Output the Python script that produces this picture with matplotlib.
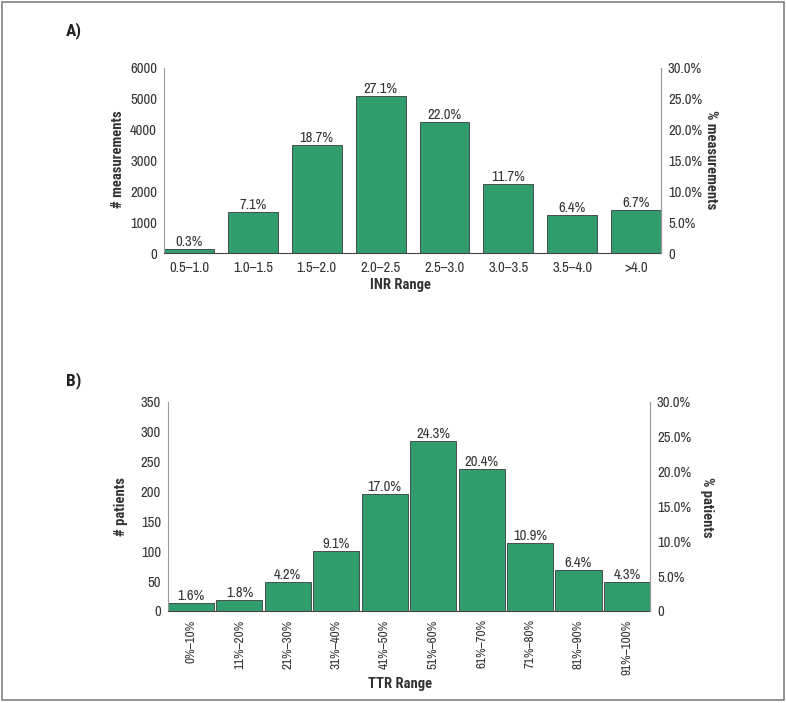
import numpy as np
import matplotlib
matplotlib.use("Agg")
import matplotlib.pyplot as plt
from matplotlib.patches import Rectangle

plt.rcParams['font.family'] = ['Archivo Narrow', 'DejaVu Sans']
plt.rcParams['font.size'] = 10
BOLD = ['Roboto Condensed', 'Asap Condensed', 'DejaVu Sans']

# panel A data
inr_labels = ['0.5\u20131.0', '1.0\u20131.5', '1.5\u20132.0', '2.0\u20132.5',
              '2.5\u20133.0', '3.0\u20133.5', '3.5\u20134.0', '>4.0']
inr_counts = [115, 1340, 3490, 5100, 4250, 2250, 1230, 1385]
inr_pct = [0.3, 7.1, 18.7, 27.1, 22.0, 11.7, 6.4, 6.7]

# panel B data
ttr_labels = ['0%\u201310%', '11%\u201320%', '21%\u201330%', '31%\u201340%', '41%\u201350%',
              '51%\u201360%', '61%\u201370%', '71%\u201380%', '81%\u201390%', '91%\u2013100%']
ttr_counts = [13, 19, 49, 100, 196, 285, 238, 114, 69, 49]
ttr_pct = [1.6, 1.8, 4.2, 9.1, 17.0, 24.3, 20.4, 10.9, 6.4, 4.3]

green = '#319d6c'
txt = '#333333'


def panel(rect, labels, counts, pct, width, ymax, ystep, rot, xsize):
    ax = fig.add_axes(rect)
    x = np.arange(len(labels))
    bars = ax.bar(x, counts, width=width, color=green, edgecolor='#3a3a3a', linewidth=0.6)
    for b, p in zip(bars, pct):
        ax.text(b.get_x() + b.get_width() / 2, b.get_height(), f'{p:.1f}%',
                ha='center', va='bottom', color=txt, fontsize=10.5)
    ax.set_xlim(-width / 2, len(labels) - 1 + width / 2)
    ax.set_ylim(0, ymax)
    ax.set_yticks(np.arange(0, ymax + 1, ystep))
    ax.set_xticks(x)
    ax.set_xticklabels(labels, rotation=rot)
    ax.tick_params(axis='both', length=0, colors=txt, labelsize=10.5)
    ax.tick_params(axis='x', pad=6, labelsize=xsize)
    ax.tick_params(axis='y', pad=5)
    ax.spines['top'].set_visible(False)
    ax.spines['left'].set_color('#999999')
    ax.spines['right'].set_color('#999999')
    ax.spines['bottom'].set_color('#444444')

    ax2 = ax.twinx()
    ax2.set_ylim(0, 30)
    ticks = np.arange(0, 31, 5)
    ax2.set_yticks(ticks)
    ax2.set_yticklabels(['0'] + [f'{t:.1f}%' for t in ticks[1:]])
    ax2.tick_params(length=0, colors=txt, labelsize=10.5, pad=5)
    for s in ['top', 'left', 'bottom']:
        ax2.spines[s].set_visible(False)
    ax2.spines['right'].set_color('#999999')
    return ax


fig = plt.figure(figsize=(7.86, 7.03), dpi=100)
fig.patches.append(Rectangle((0.003, 0.004), 0.994, 0.993, transform=fig.transFigure,
                             fill=False, edgecolor='#808080', linewidth=1.2))

panel([0.2087, 0.6401, 0.6323, 0.2632], inr_labels, inr_counts, inr_pct, 0.78, 6000, 1000, 0, 10.5)
panel([0.2137, 0.1309, 0.6132, 0.2973], ttr_labels, ttr_counts, ttr_pct, 0.95, 350, 50, 90, 9.5)

lbl = dict(fontweight='bold', ha='center', va='center', color=txt, family=BOLD, fontsize=10.5)
fig.text(0.094, 0.957, 'A)', **{**lbl, 'fontsize': 12.5, 'color': '#222222'})
fig.text(0.094, 0.458, 'B)', **{**lbl, 'fontsize': 12.5, 'color': '#222222'})
fig.text(0.150, 0.773, '# measurements', rotation=90, **lbl)
fig.text(0.905, 0.773, '% measurements', rotation=-90, **lbl)
fig.text(0.154, 0.279, '# patients', rotation=90, **lbl)
fig.text(0.900, 0.279, '% patients', rotation=-90, **lbl)
fig.text(0.509, 0.594, 'INR Range', **lbl)
fig.text(0.509, 0.027, 'TTR Range', **lbl)

fig.savefig('out.png', dpi=100)
